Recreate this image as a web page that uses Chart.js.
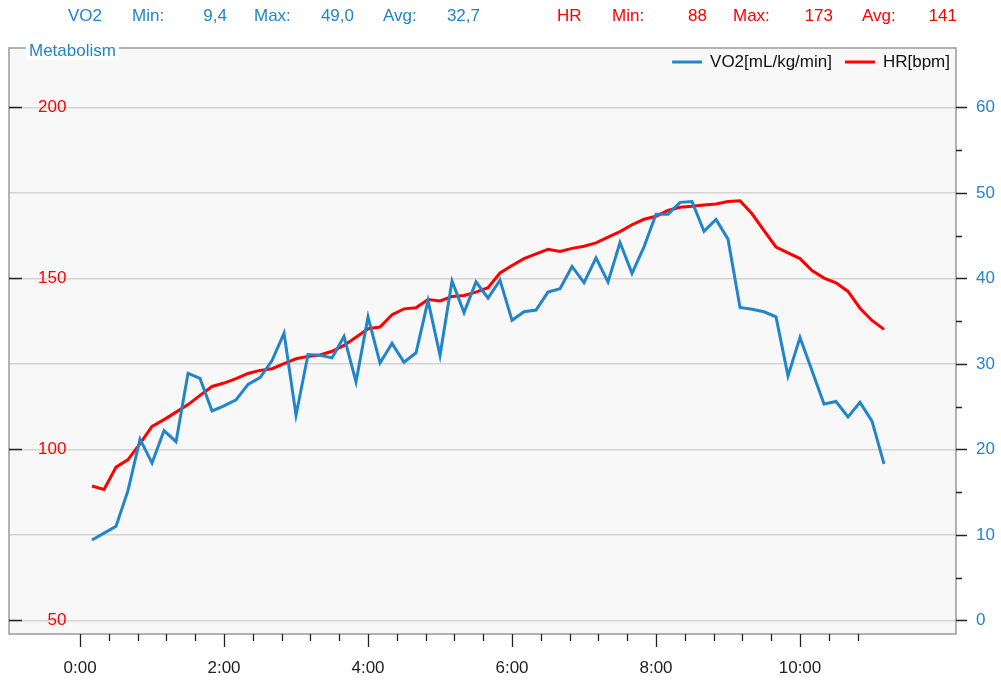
<!DOCTYPE html>
<html>
<head>
<meta charset="utf-8">
<script src="https://cdn.jsdelivr.net/npm/chart.js@4.4.0/dist/chart.umd.min.js"></script>
<style>
  body { margin: 0; background: #fff; }
  canvas { display: block; }
</style>
</head>
<body>
<canvas id="metabolismChart" width="1001" height="680"></canvas>
<script>
// sample times in seconds
const times = [
  10, 20, 30, 40, 50, 60, 70, 80, 90, 100, 110, 120, 130, 140, 150, 160, 170,
  180, 190, 200, 210, 220, 230, 240, 250, 260, 270, 280, 290, 300, 310, 320,
  330, 340, 350, 360, 370, 380, 390, 400, 410, 420, 430, 440, 450, 460, 470,
  480, 490, 500, 510, 520, 530, 540, 550, 560, 570, 580, 590, 600, 610, 620,
  630, 640, 650, 660, 670,
];
const vo2 = [
  9.4, 10.2, 11.0, 15.2, 21.2, 18.4, 22.2, 20.9, 28.9, 28.3, 24.5, 25.1, 25.8,
  27.6, 28.4, 30.4, 33.6, 24.0, 31.1, 31.0, 30.7, 33.2, 27.9, 35.5, 30.1, 32.4,
  30.2, 31.3, 37.4, 31.0, 39.7, 36.0, 39.6, 37.7, 39.8, 35.1, 36.1, 36.3, 38.4,
  38.8, 41.4, 39.5, 42.4, 39.6, 44.2, 40.6, 43.7, 47.5, 47.5, 48.9, 49.0, 45.5,
  46.9, 44.6, 36.6, 36.4, 36.1, 35.5, 28.6, 33.1, 29.2, 25.3, 25.6, 23.8, 25.5,
  23.3, 18.3,
];
const hr = [
  89.3, 88.3, 94.8, 97.0, 101.7, 106.7, 108.7, 110.9, 113.1, 115.8, 118.4,
  119.4, 120.7, 122.2, 123.1, 123.6, 125.1, 126.5, 127.2, 127.6, 128.7, 130.4,
  132.8, 135.3, 135.8, 139.4, 141.1, 141.4, 143.8, 143.4, 144.7, 145.0, 146.0,
  147.3, 151.6, 153.8, 155.8, 157.2, 158.5, 157.9, 158.8, 159.4, 160.4, 162.1,
  163.7, 165.7, 167.3, 168.2, 169.9, 170.8, 171.1, 171.5, 171.8, 172.5, 172.7,
  168.9, 164.0, 159.2, 157.5, 155.8, 152.3, 150.1, 148.7, 146.2, 141.3, 137.7,
  135.1,
];
const vo2Stats = ["9,4", "49,0", "32,7"];
const hrStats = ["88", "173", "141"];
const hrTickLabels = [50, 100, 150, 200];
const vo2TickLabels = [0, 10, 20, 30, 40, 50, 60];
const timeTickLabels = [0, 120, 240, 360, 480, 600];

const BLUE = "#2385c9";
const RED = "#ff0000";
const FONT = "'Liberation Sans', Arial, sans-serif";

Chart.defaults.font.family = FONT;
Chart.defaults.font.size = 17;

const toPoints = (values) => values.map((v, i) => ({ x: times[i], y: v }));
const fmtTime = (s) => `${Math.floor(s / 60)}:${String(s % 60).padStart(2, "0")}`;

const frame = {
  id: "frame",
  beforeDraw(chart) {
    const { ctx, chartArea: a } = chart;
    ctx.save();
    ctx.fillStyle = "#fff";
    ctx.fillRect(0, 0, chart.width, chart.height);
    ctx.fillStyle = "#f8f8f8";
    ctx.fillRect(a.left, a.top, a.right - a.left, a.bottom - a.top);
    ctx.restore();
  },
  afterDraw(chart) {
    const { ctx, chartArea: a } = chart;
    const x = chart.scales.x;
    const y = chart.scales.y;
    const y2 = chart.scales.y2;
    ctx.save();

    // frame
    ctx.strokeStyle = "#9a9a9a";
    ctx.lineWidth = 1.5;
    ctx.strokeRect(a.left, a.top, a.right - a.left, a.bottom - a.top);

    // tick marks
    ctx.strokeStyle = "#222";
    ctx.lineWidth = 1.3;
    ctx.beginPath();
    x.ticks.forEach((t) => {
      if (t.value < 0 || t.value > times[times.length - 1]) return;
      const px = Math.round(x.getPixelForValue(t.value)) + 0.5;
      const len = timeTickLabels.includes(t.value) ? 13 : 7;
      ctx.moveTo(px, a.bottom);
      ctx.lineTo(px, a.bottom + len);
    });
    hrTickLabels.forEach((v) => {
      const py = Math.round(y.getPixelForValue(v)) + 0.5;
      ctx.moveTo(a.left, py);
      ctx.lineTo(a.left + 13, py);
    });
    y2.ticks.forEach((t) => {
      if (t.value > vo2TickLabels[vo2TickLabels.length - 1]) return;
      const py = Math.round(y2.getPixelForValue(t.value)) + 0.5;
      const len = vo2TickLabels.includes(t.value) ? 11 : 6;
      ctx.moveTo(a.right, py);
      ctx.lineTo(a.right + len, py);
    });
    ctx.stroke();

    // legend, top right inside the plot
    ctx.font = `17px ${FONT}`;
    ctx.textBaseline = "middle";
    ctx.textAlign = "left";
    let cx = a.right - 6;
    const ly = a.top + 14;
    [...chart.data.datasets].reverse().forEach((ds) => {
      const w = ctx.measureText(ds.label).width;
      cx -= w;
      ctx.fillStyle = "#111";
      ctx.fillText(ds.label, cx, ly);
      cx -= 8 + 30;
      ctx.fillStyle = ds.borderColor;
      ctx.fillRect(cx, ly - 1.5, 30, 3);
      cx -= 13;
    });

    // frame title
    ctx.textBaseline = "alphabetic";
    const title = "Metabolism";
    const tw = ctx.measureText(title).width;
    ctx.fillStyle = "#fff";
    ctx.fillRect(a.left + 17, a.top - 6, tw + 6, 18);
    ctx.fillStyle = BLUE;
    ctx.fillText(title, a.left + 20, a.top + 8);

    // header stats
    const put = (text, px, align, color) => {
      ctx.textAlign = align;
      ctx.fillStyle = color;
      ctx.fillText(text, px, 21);
    };
    put("VO2", 68, "left", BLUE);
    put("Min:", 132, "left", BLUE);
    put(vo2Stats[0], 227, "right", BLUE);
    put("Max:", 254, "left", BLUE);
    put(vo2Stats[1], 354, "right", BLUE);
    put("Avg:", 383, "left", BLUE);
    put(vo2Stats[2], 480, "right", BLUE);
    put("HR", 557, "left", RED);
    put("Min:", 612, "left", RED);
    put(hrStats[0], 707, "right", RED);
    put("Max:", 733, "left", RED);
    put(hrStats[1], 833, "right", RED);
    put("Avg:", 862, "left", RED);
    put(hrStats[2], 957, "right", RED);
    ctx.restore();
  },
};

new Chart(document.getElementById("metabolismChart").getContext("2d"), {
  type: "line",
  data: {
    datasets: [
      {
        label: "VO2[mL/kg/min]",
        data: toPoints(vo2),
        yAxisID: "y2",
        borderColor: BLUE,
        backgroundColor: BLUE,
        borderWidth: 3,
        pointRadius: 0,
        tension: 0,
      },
      {
        label: "HR[bpm]",
        data: toPoints(hr),
        yAxisID: "y",
        borderColor: RED,
        backgroundColor: RED,
        borderWidth: 3,
        pointRadius: 0,
        tension: 0,
      },
    ],
  },
  options: {
    responsive: false,
    animation: false,
    layout: { padding: { left: 9, top: 48, right: 0, bottom: 0 } },
    plugins: {
      tooltip: { enabled: false },
      legend: { display: false },
    },
    scales: {
      x: {
        type: "linear",
        min: -59.2,
        max: 730,
        grid: { display: false },
        border: { display: false },
        ticks: {
          stepSize: 24,
          includeBounds: false,
          autoSkip: false,
          maxRotation: 0,
          color: "#222",
          padding: 16,
          callback: (v) => (timeTickLabels.includes(v) ? fmtTime(v) : ""),
        },
        afterFit: (s) => { s.height = 46; },
      },
      y: {
        position: "left",
        min: 46.0,
        max: 217.4,
        grid: { color: "#d4d4d4", lineWidth: 1.5, drawTicks: false },
        border: { display: false },
        ticks: {
          stepSize: 25,
          includeBounds: false,
          mirror: true,
          crossAlign: "far",
          padding: 29,
          color: RED,
          callback: (v) => (hrTickLabels.includes(v) ? String(v) : ""),
        },
        afterFit: (s) => { s.width = 0; },
      },
      y2: {
        position: "right",
        min: -1.6,
        max: 66.96,
        grid: { drawOnChartArea: false, drawTicks: false },
        border: { display: false },
        ticks: {
          stepSize: 5,
          includeBounds: false,
          padding: 20,
          color: BLUE,
          callback: (v) => (vo2TickLabels.includes(v) ? String(v) : ""),
        },
        afterFit: (s) => { s.width = 45; },
      },
    },
  },
  plugins: [frame],
});
</script>
</body>
</html>
